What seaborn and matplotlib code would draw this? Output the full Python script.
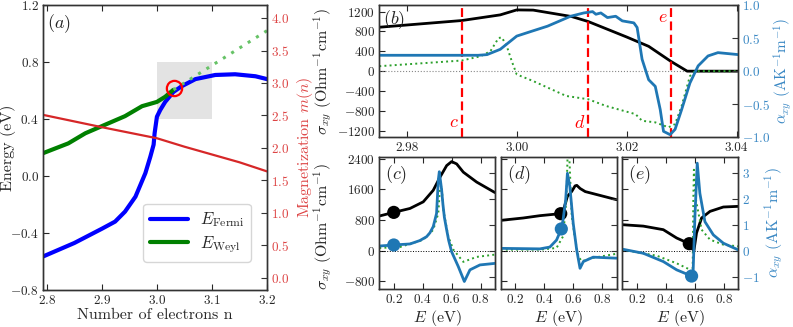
import numpy as np
import matplotlib
matplotlib.use("Agg")
import matplotlib.pyplot as plt
import seaborn as sns

# ======================================================
# DATA
# ======================================================

# panel (a): Fermi / Weyl energy and magnetization vs n
n_fermi = [2.793, 2.85, 2.9, 2.924, 2.942, 2.961, 2.979, 2.988, 2.994, 2.9958,
           3.0, 3.006, 3.015, 3.03, 3.045, 3.07, 3.106, 3.142, 3.179, 3.2]
e_fermi = [-0.565, -0.47, -0.37, -0.32, -0.25, -0.145, 0.02, 0.135, 0.22, 0.30,
           0.416, 0.463, 0.52, 0.59, 0.63, 0.68, 0.709, 0.714, 0.70, 0.68]

n_weyl = [2.793, 2.839, 2.87, 2.9, 2.942, 2.973, 3.0, 3.015, 3.03]
e_weyl = [0.16, 0.229, 0.30, 0.35, 0.42, 0.49, 0.52, 0.556, 0.605]

n_weyl_ext = [3.03, 3.2]
e_weyl_ext = [0.605, 1.02]

n_mag = [2.793, 2.9, 3.0, 3.05, 3.1, 3.15, 3.2]
m_mag = [2.51, 2.32, 2.15, 2.02, 1.9, 1.78, 1.64]

weyl_touch_n = [3.031]
weyl_touch_e = [0.62]
zoom_box = (3.0, 3.1, 0.4, 0.8)

# panel (b): sigma_xy, alpha_xy vs n
n_sig = [2.975, 2.98, 2.985, 2.99, 2.997, 3.0, 3.003, 3.01, 3.013, 3.02,
         3.024, 3.028, 3.031, 3.035, 3.0403]
sig_b = [885, 930, 975, 1020, 1134, 1234, 1230, 1100, 1000, 688,
         500, 200, 0, 0, 0]

n_alpha = [2.975, 2.985, 2.993, 2.9946, 2.997, 2.9985, 3.0, 3.0026, 3.0056, 3.0098,
           3.0122, 3.0138, 3.0144, 3.0153, 3.0165, 3.018, 3.0192, 3.0213, 3.0219, 3.0228,
           3.024, 3.0252, 3.0261, 3.0267, 3.0279, 3.0288, 3.03, 3.0315, 3.033, 3.0348,
           3.0366, 3.0403]
alpha_b = [0.24, 0.24, 0.24, 0.25, 0.33, 0.43, 0.53, 0.60, 0.68, 0.83,
           0.88, 0.90, 0.86, 0.88, 0.81, 0.83, 0.76, 0.73, 0.66, 0.18,
           -0.13, -0.23, -0.58, -0.91, -0.96, -0.88, -0.58, -0.18, 0.08, 0.23,
           0.28, 0.25]

n_green = [2.975, 2.99, 2.9934, 2.9952, 2.9967, 2.9973, 2.9982, 2.9991, 3.0, 3.003,
           3.009, 3.013, 3.0162, 3.0216, 3.0228, 3.0252, 3.0276, 3.0288, 3.03, 3.0315,
           3.0324, 3.0403]
green_b = [100, 214, 300, 400, 668, 680, 500, 200, -66, -200,
           -500, -566, -700, -866, -1000, -1032, -1132, -1066, -700, -100,
           0, 0]

cut_positions = [2.99, 3.013, 3.028]
cut_names = ["c", "d", "e"]

# panels (c), (d), (e): spectra vs E
e_c_black = [0.1, 0.2, 0.312, 0.404, 0.473, 0.52, 0.566, 0.6, 0.635, 0.681, 0.773, 0.9]
s_c_black = [903, 998, 1100, 1273, 1574, 1918, 2219, 2322, 2262, 2047, 1789, 1514]
e_c_blue = [0.1, 0.2, 0.312, 0.38, 0.427, 0.45, 0.473, 0.496, 0.508, 0.515,
            0.531, 0.54, 0.55, 0.566, 0.58, 0.6, 0.646, 0.688, 0.727, 0.796, 0.9]
a_c_blue = [0.19, 0.23, 0.27, 0.40, 0.55, 0.70, 0.94, 1.45, 2.74, 3.06,
            2.36, 1.8, 1.3, 0.81, 0.4, -0.03, -0.6, -1.18, -0.73, -0.54, -0.48]
e_c_green = [0.1, 0.243, 0.404, 0.473, 0.508, 0.52, 0.531, 0.543, 0.577, 0.612,
             0.681, 0.773, 0.9]
s_c_green = [70, 95, 284, 542, 972, 1660, 1700, 1058, 370, 26,
             -292, -163, -103]

e_d_black = [0.1, 0.256, 0.37, 0.51, 0.53, 0.56, 0.59, 0.613, 0.625, 0.648, 0.683, 0.9]
s_d_black = [790, 852, 912, 964, 1024, 1415, 1545, 1690, 1702, 1620, 1540, 1328]
e_d_blue = [0.1, 0.37, 0.439, 0.485, 0.518, 0.53, 0.548, 0.56, 0.577, 0.6,
            0.624, 0.647, 0.67, 0.738, 0.9]
a_d_blue = [0.1, 0.08, 0.15, 0.42, 0.85, 1.2, 1.97, 3.0, 2.48, 1.07,
            0.04, -0.67, -0.41, -0.24, -0.28]
e_d_green = [0.1, 0.37, 0.485, 0.53, 0.553, 0.562, 0.565, 0.59, 0.613, 0.636,
             0.659, 0.716, 0.9]
s_d_green = [26, 26, 70, 373, 1330, 2600, 3200, 894, 287, -150,
             -280, -200, -80]

e_e_black = [0.1, 0.245, 0.383, 0.475, 0.562, 0.578, 0.594, 0.612, 0.647, 0.705, 0.797, 0.9]
s_e_black = [677, 640, 547, 330, 182, 70, 0, 460, 852, 1024, 1138, 1155]
e_e_blue = [0.1, 0.245, 0.383, 0.475, 0.578, 0.589, 0.601, 0.617, 0.635, 0.67,
            0.728, 0.797, 0.9]
a_e_blue = [0.07, -0.09, -0.41, -0.73, -0.97, -0.73, 1.32, 3.39, 2.23, 1.13,
            0.62, 0.3, 0.04]
e_e_green = [0.1, 0.337, 0.475, 0.567, 0.585, 0.59, 0.594, 0.608, 0.647, 0.705,
             0.797, 0.9]
s_e_green = [26, -130, -330, -495, -625, 1330, 2110, 1330, 547, 287,
             156, 112]

marker_black = {"c": (0.2, 998), "d": (0.514, 964), "e": (0.562, 182)}
marker_blue = {"c": (0.2, 0.23), "d": (0.518, 0.85), "e": (0.578, -0.97)}

# ======================================================
# STYLE
# ======================================================

sns.set_theme(style="ticks")
plt.rcParams["font.family"] = ["cmr10", "DejaVu Serif"]
plt.rcParams["mathtext.fontset"] = "cm"
plt.rcParams["axes.formatter.use_mathtext"] = True
plt.rcParams["axes.unicode_minus"] = True
plt.rcParams["axes.edgecolor"] = "#333333"
plt.rcParams["axes.linewidth"] = 1.0

BLUE = "#1f77b4"
GREEN = "#2ca02c"
RED = "#d62728"
RED_TXT = "#dd4444"
BLUE_TXT = "#3a88c4"
LABEL_SIZE = 11.5
TICK_SIZE = 9.5

SIGMA_LABEL = r"$\sigma_{xy}$ (Ohm$^{-1}$cm$^{-1}$)"
ALPHA_LABEL = r"$\alpha_{xy}$ (AK$^{-1}$m$^{-1}$)"

fig = plt.figure(figsize=(7.93, 3.27), dpi=100)


def style_ticks(ax, **kw):
    ax.tick_params(direction="in", labelsize=TICK_SIZE, length=4, width=0.8,
                   pad=3, **kw)


# ======================================================
# PANEL (a)
# ======================================================

ax_a = fig.add_axes([0.0542, 0.1131, 0.2825, 0.8716])
ax_a.fill_between([zoom_box[0], zoom_box[1]], zoom_box[2], zoom_box[3],
                  color="#e3e3e3", lw=0, zorder=0)
sns.lineplot(x=n_fermi, y=e_fermi, ax=ax_a, color="blue", lw=3,
             label=r"$E_{\rm Fermi}$", sort=False)
sns.lineplot(x=n_weyl, y=e_weyl, ax=ax_a, color="green", lw=3,
             label=r"$E_{\rm Weyl}$", sort=False)
sns.lineplot(x=n_weyl_ext, y=e_weyl_ext, ax=ax_a, color="#66c266", lw=2.2,
             linestyle=(0, (1, 2.2)), sort=False)
ax_a.plot(weyl_touch_n, weyl_touch_e, "o", ms=11, mfc="none", mec="red", mew=1.6)
ax_a.set_xlim(2.793, 3.2)
ax_a.set_ylim(-0.8, 1.2)
ax_a.set_yticks([-0.8, -0.4, 0.0, 0.4, 0.8, 1.2])
ax_a.set_xticks([2.8, 2.9, 3.0, 3.1, 3.2])
ax_a.set_xlabel("Number of electrons n", fontsize=LABEL_SIZE)
ax_a.set_ylabel("Energy (eV)", fontsize=LABEL_SIZE)
ax_a.xaxis.set_label_coords(0.5, -0.063)
ax_a.yaxis.set_label_coords(-0.12, 0.5)
style_ticks(ax_a, top=True, right=False)
ax_a.text(0.02, 0.975, r"$(a)$", transform=ax_a.transAxes, fontsize=13,
          va="top", ha="left")
ax_a.legend(loc="lower right", fontsize=12, handlelength=2.3, frameon=True,
            fancybox=True, edgecolor="#cccccc", borderpad=0.4,
            labelspacing=0.3, handletextpad=0.7,
            bbox_to_anchor=(0.965, 0.07))

ax_m = ax_a.twinx()
sns.lineplot(x=n_mag, y=m_mag, ax=ax_m, color=RED, lw=1.6, sort=False)
ax_m.set_ylim(-0.185, 4.2)
ax_m.set_yticks(np.arange(0, 4.01, 0.5))
ax_m.set_ylabel(r"Magnetization $m(n)$", color=RED_TXT, fontsize=LABEL_SIZE)
ax_m.yaxis.set_label_coords(1.125, 0.5)
style_ticks(ax_m, colors=RED_TXT)
ax_m.tick_params(axis="y", color="#333333")
ax_m.spines["right"].set_color("#333333")

# ======================================================
# PANEL (b)
# ======================================================

ax_b = fig.add_axes([0.4783, 0.5801, 0.4527, 0.4046])
ax_b.axhline(0, color="#888888", lw=0.8, ls=":")
sns.lineplot(x=n_sig, y=sig_b, ax=ax_b, color="black", lw=2, sort=False)
sns.lineplot(x=n_green, y=green_b, ax=ax_b, color=GREEN, lw=1.4,
             linestyle=":", sort=False)
ax_b.set_xlim(2.975, 3.0403)
ax_b.set_ylim(-1333, 1333)
ax_b.set_yticks(np.arange(-1200, 1201, 400))
ax_b.set_xticks([2.98, 3.00, 3.02, 3.04])
ax_b.set_xticklabels(["2.98", "3.00", "3.02", "3.04"])
ax_b.set_ylabel(SIGMA_LABEL, fontsize=LABEL_SIZE)
ax_b.yaxis.set_label_coords(-0.123, 0.5)
style_ticks(ax_b, top=True, right=False)
ax_b.text(0.01, 0.975, r"$(b)$", transform=ax_b.transAxes, fontsize=13,
          va="top", ha="left")

for pos, name in zip(cut_positions, cut_names):
    ax_b.axvline(pos, color="red", lw=1.6, ls=(0, (4, 2)), zorder=5)
    if name == "e":
        ax_b.text(pos - 0.0005, 1080, f"${name}$", color="red", fontsize=13,
                  ha="right", va="center")
    else:
        ax_b.text(pos - 0.0006, -1030, f"${name}$", color="red", fontsize=13,
                  ha="right", va="center")

ax_b2 = ax_b.twinx()
sns.lineplot(x=n_alpha, y=alpha_b, ax=ax_b2, color=BLUE, lw=2, sort=False)
ax_b2.set_ylim(-1, 1)
ax_b2.set_yticks([-1.0, -0.5, 0.0, 0.5, 1.0])
ax_b2.set_ylabel(ALPHA_LABEL, color=BLUE_TXT, fontsize=11)
ax_b2.yaxis.set_label_coords(1.093, 0.5)
style_ticks(ax_b2, colors=BLUE_TXT)
ax_b2.tick_params(axis="y", color="#333333")
ax_b2.spines["right"].set_color("#333333")

# ======================================================
# PANELS (c), (d), (e)
# ======================================================

panels = [
    ("c", [0.4783, 0.1162, 0.1459, 0.4046],
     e_c_black, s_c_black, e_c_blue, a_c_blue, e_c_green, s_c_green),
    ("d", [0.6314, 0.1162, 0.1463, 0.4046],
     e_d_black, s_d_black, e_d_blue, a_d_blue, e_d_green, s_d_green),
    ("e", [0.7847, 0.1162, 0.1463, 0.4046],
     e_e_black, s_e_black, e_e_blue, a_e_blue, e_e_green, s_e_green),
]

for name, rect, eb, sb, eu, au, eg, sg in panels:
    ax = fig.add_axes(rect)
    ax.axhline(0, color="black", lw=0.7, ls=":")
    sns.lineplot(x=eb, y=sb, ax=ax, color="black", lw=2, sort=False)
    sns.lineplot(x=eg, y=sg, ax=ax, color=GREEN, lw=1.4, linestyle=":",
                 sort=False)
    bx, by = marker_black[name]
    sns.scatterplot(x=[bx], y=[by], ax=ax, color="black", s=90,
                    edgecolor="none", zorder=6)
    ax.set_xlim(0.1, 0.9)
    ax.set_ylim(-1000, 2450)
    ax.set_xticks([0.2, 0.4, 0.6, 0.8])
    ax.set_yticks([-800, 0, 800, 1600, 2400])
    ax.set_xlabel(r"$E$ (eV)", fontsize=LABEL_SIZE)
    ax.xaxis.set_label_coords(0.5, -0.144)
    style_ticks(ax, top=True, right=False)
    if name == "c":
        ax.set_ylabel(SIGMA_LABEL, fontsize=LABEL_SIZE)
        ax.yaxis.set_label_coords(-0.383, 0.47)
    else:
        ax.set_yticklabels([])
    ax.text(0.05, 0.95, f"$({name})$", transform=ax.transAxes, fontsize=13,
            va="top", ha="left")

    ax2 = ax.twinx()
    sns.lineplot(x=eu, y=au, ax=ax2, color=BLUE, lw=2, sort=False)
    ux, uy = marker_blue[name]
    sns.scatterplot(x=[ux], y=[uy], ax=ax2, color=BLUE, s=90,
                    edgecolor="none", zorder=6)
    ax2.set_ylim(-1.47, 3.64)
    ax2.set_yticks([-1, 0, 1, 2, 3])
    ax2.spines["right"].set_color("#333333")
    style_ticks(ax2, colors=BLUE_TXT)
    ax2.tick_params(axis="y", color="#333333")
    if name == "e":
        ax2.set_ylabel(ALPHA_LABEL, color=BLUE_TXT, fontsize=LABEL_SIZE)
        ax2.yaxis.set_label_coords(1.213, 0.5)
    else:
        ax2.set_yticklabels([])

fig.savefig("out.png", dpi=100)
